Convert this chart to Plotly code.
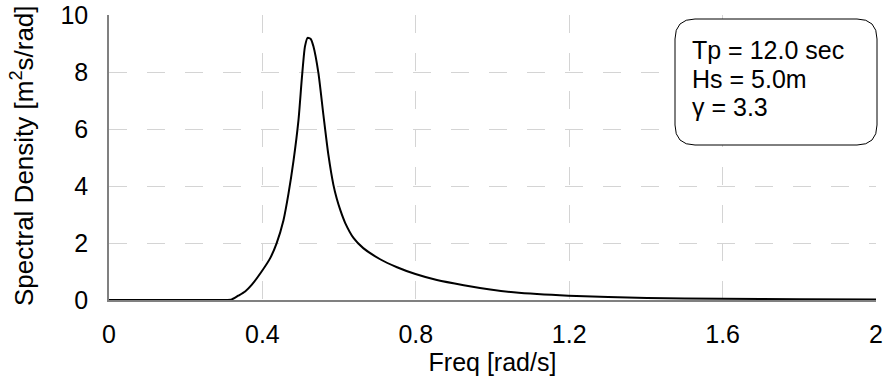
import plotly.graph_objects as go

# Data
freq = [0.0, 0.1, 0.2, 0.3, 0.32, 0.337, 0.355, 0.372, 0.398, 0.42, 0.437, 0.455,
        0.468, 0.481, 0.494, 0.503, 0.511, 0.518, 0.526, 0.533, 0.546, 0.559,
        0.572, 0.585, 0.594, 0.603, 0.616, 0.638, 0.663, 0.707, 0.751, 0.799, 0.855,
        0.925, 0.994, 1.055, 1.198, 1.403, 1.60, 1.8, 2.0]
density = [0.0, 0.0, 0.0, 0.0, 0.02, 0.15, 0.30, 0.53, 1.0, 1.46, 1.99, 2.8,
           3.73, 4.87, 6.3, 7.8, 8.9, 9.2, 9.16, 8.9, 7.97, 6.5,
           5.1, 4.05, 3.55, 3.16, 2.70, 2.17, 1.82, 1.43, 1.15, 0.91, 0.70,
           0.52, 0.37, 0.27, 0.15, 0.07, 0.045, 0.03, 0.02]
x_ticks = [0, 0.4, 0.8, 1.2, 1.6, 2.0]
x_tick_labels = ["0", "0.4", "0.8", "1.2", "1.6", "2"]
y_ticks = [0, 2, 4, 6, 8, 10]
info_lines = ["Tp = 12.0 sec", "Hs = 5.0m", "γ = 3.3"]

FONT = "Liberation Sans, Arial, sans-serif"
FS = 25

fig = go.Figure()
fig.add_trace(go.Scatter(x=freq, y=density, mode="lines",
                         line=dict(color="black", width=2, shape="spline", smoothing=0.6),
                         hoverinfo="skip", showlegend=False))

W, H = 885, 381
ml, mr, mt, mb = 109, 9, 15, 81
pw, ph = W - ml - mr, H - mt - mb

def px(x):
    return (x - ml) / pw
def py(y):
    return (H - mb - y) / ph

# rounded box in paper coords
bx0, bx1, by0, by1 = 675, 877, 19, 145  # pixels
r = 20
path = (f"M {px(bx0 + r)},{py(by0)} L {px(bx1 - r)},{py(by0)} "
        f"Q {px(bx1)},{py(by0)} {px(bx1)},{py(by0 + r)} "
        f"L {px(bx1)},{py(by1 - r)} Q {px(bx1)},{py(by1)} {px(bx1 - r)},{py(by1)} "
        f"L {px(bx0 + r)},{py(by1)} Q {px(bx0)},{py(by1)} {px(bx0)},{py(by1 - r)} "
        f"L {px(bx0)},{py(by0 + r)} Q {px(bx0)},{py(by0)} {px(bx0 + r)},{py(by0)} Z")
fig.add_shape(type="path", path=path, xref="paper", yref="paper",
              line=dict(color="black", width=1), fillcolor="white", layer="above")

line_centers = [50, 78.5, 107]
for txt, yc in zip(info_lines, line_centers):
    fig.add_annotation(x=px(690), y=py(yc), xref="paper", yref="paper",
                       xanchor="left", yanchor="middle", align="left",
                       text=txt, showarrow=False,
                       font=dict(family=FONT, size=25, color="black"))

# y-axis title as rotated annotation
fig.add_annotation(x=px(22), y=py(156), xref="paper", yref="paper",
                   xanchor="center", yanchor="middle", textangle=-90,
                   text="Spectral Density [m<sup>2</sup>s/rad]", showarrow=False,
                   font=dict(family=FONT, size=26, color="black"))

grid = dict(showgrid=True, gridcolor="#d4d4d4", gridwidth=1.3, griddash="18px,20px",
            showline=True, linecolor="#808080", linewidth=1.5, zeroline=False,
            ticks="", tickfont=dict(family=FONT, size=FS, color="black"))

fig.update_xaxes(range=[0, 2], tickvals=x_ticks, ticktext=x_tick_labels,
                 title=dict(text="Freq [rad/s]", font=dict(family=FONT, size=FS, color="black"),
                            standoff=2),
                 ticklabelstandoff=11, **grid)
fig.update_yaxes(range=[0, 10], tickvals=y_ticks, ticklabelstandoff=14, **grid)

fig.update_layout(width=W, height=H, margin=dict(l=ml, r=mr, t=mt, b=mb, autoexpand=False),
                  plot_bgcolor="white", paper_bgcolor="white",
                  font=dict(family=FONT, size=FS, color="black"))

fig.write_html("out.html")
